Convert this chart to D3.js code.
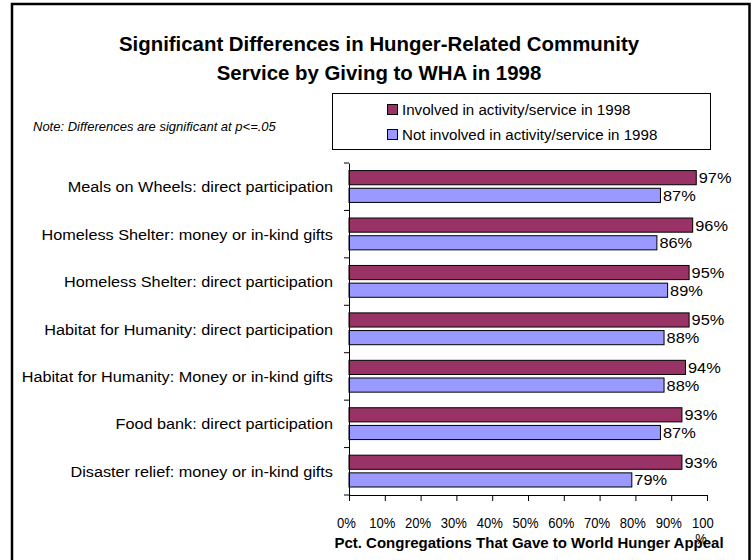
<!DOCTYPE html>
<html><head><meta charset="utf-8">
<script src="https://cdn.jsdelivr.net/npm/d3@7"></script>
<style>body{margin:0;background:#fff}svg text{font-family:Arial,"Liberation Sans",sans-serif}</style>
</head><body>
<svg id="c" width="755" height="560"></svg>
<script>
const categories = ["Meals on Wheels: direct participation","Homeless Shelter: money or in-kind gifts","Homeless Shelter: direct participation","Habitat for Humanity: direct participation","Habitat for Humanity: Money or in-kind gifts","Food bank: direct participation","Disaster relief: money or in-kind gifts"];
const involved = [97,96,95,95,94,93,93];
const notInvolved = [87,86,89,88,88,87,79];
const seriesNames = ["Involved in activity/service in 1998","Not involved in activity/service in 1998"];
const colors = ["#993366","#9999FF"];
const xTicks = [0,10,20,30,40,50,60,70,80,90,100];

const svg = d3.select("#c");
svg.append("rect").attr("x",12).attr("y",4).attr("width",737.5).attr("height",600)
  .attr("fill","#fff").attr("stroke","#000").attr("stroke-width",2.5);

// helper: text with horizontal stretch
function stext(parent, x, y, str, size, sx, anchor, extra){
  const t = parent.append("text").attr("transform",`translate(${x},${y}) scale(${sx},1)`)
    .attr("font-size",size).attr("text-anchor",anchor||"start").text(str);
  if (extra) extra(t);
  return t;
}

const title = svg.append("text").attr("text-anchor","middle").attr("font-weight","bold").attr("font-size",20.4);
title.append("tspan").attr("x",379).attr("y",51).text("Significant Differences in Hunger-Related Community");
title.append("tspan").attr("x",379).attr("y",80).text("Service by Giving to WHA in 1998");

svg.append("text").attr("x",33).attr("y",131).attr("font-size",13).attr("font-style","italic")
  .text("Note: Differences are significant at p<=.05");

// legend
const lg = svg.append("g");
lg.append("rect").attr("x",332.5).attr("y",93.5).attr("width",378).attr("height",56).attr("fill","#fff").attr("stroke","#000").attr("stroke-width",1);
seriesNames.forEach((n,i)=>{
  const yy = 110 + i*25;
  lg.append("rect").attr("x",387.5).attr("y",yy-5.5).attr("width",10).attr("height",10).attr("fill",colors[i]).attr("stroke","#000").attr("stroke-width",1);
  stext(lg, 402, yy+5, n, 14, 1.08);
});

const x = d3.scaleLinear().domain([0,100]).range([349,707]);
const y = d3.scaleBand().domain(categories).range([163,495]);
const inner = d3.scaleBand().domain([0,1]).range([7.6, y.bandwidth()-8]).paddingInner(0.2);

const g = svg.append("g");
const series = [involved, notInvolved];
series.forEach((vals,si)=>{
  g.selectAll(null).data(categories).enter().append("rect")
    .attr("x",x(0)).attr("y",d=>y(d)+inner(si)).attr("width",(d,i)=>x(vals[i])-x(0)).attr("height",inner.bandwidth())
    .attr("fill",colors[si]).attr("stroke","#000").attr("stroke-width",1);
  categories.forEach((d,i)=>{
    stext(g, x(vals[i])+2.5, y(d)+inner(si)+inner.bandwidth()/2+5.5, vals[i]+"%", 14, 1.17);
  });
});

// y axis
const ya = svg.append("g").attr("transform",`translate(${x(0)},0)`)
  .call(d3.axisLeft(y).tickSizeInner(0).tickSizeOuter(0).tickFormat(""));
ya.select(".domain").attr("stroke","#000");
const sepTicks = categories.map(c=>y(c)).concat([495]);
svg.selectAll(null).data(sepTicks).enter().append("line")
  .attr("x1",x(0)-5).attr("x2",x(0)).attr("y1",d=>d).attr("y2",d=>d).attr("stroke","#000");
categories.forEach(d=>{
  stext(svg, 333, y(d)+y.bandwidth()/2+5.5, d, 14, 1.16, "end");
});

// x axis
const xa = svg.append("g").attr("transform","translate(0,495)")
  .call(d3.axisBottom(x).tickValues(xTicks).tickSize(6).tickSizeOuter(0).tickFormat(""));
xa.select(".domain").attr("stroke","#000");
xa.selectAll(".tick line").attr("stroke","#000");
xTicks.forEach(t=>{
  if (t===100){
    stext(svg, x(t)-4, 528, "100", 14.5, 0.9, "middle");
    stext(svg, x(t)-6, 544, "%", 14.5, 0.9, "middle");
  } else stext(svg, x(t)-2.5, 528, t+"%", 14.5, 0.9, "middle");
});
svg.append("text").attr("x",529).attr("y",547.5).attr("text-anchor","middle").attr("font-weight","bold").attr("font-size",15)
  .text("Pct. Congregations That Gave to World Hunger Appeal");
</script>
</body></html>
